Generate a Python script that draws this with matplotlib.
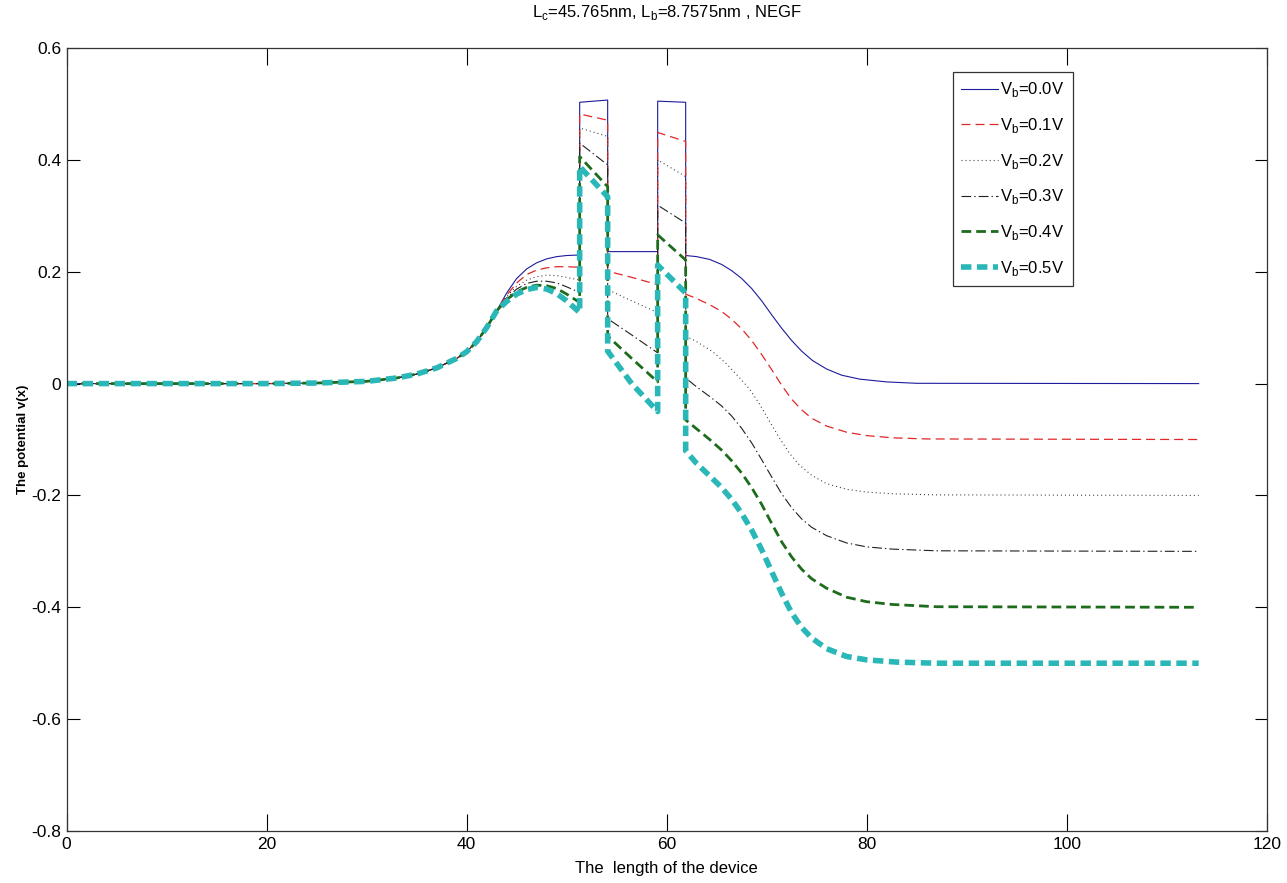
import matplotlib
matplotlib.use("Agg")
import matplotlib.pyplot as plt
from matplotlib.ticker import FormatStrFormatter

plt.rcParams['font.family'] = ['Liberation Sans', 'DejaVu Sans']
plt.rcParams['mathtext.fontset'] = 'custom'
plt.rcParams['mathtext.rm'] = 'Liberation Sans'
plt.rcParams['axes.unicode_minus'] = False
plt.rcParams['lines.scale_dashes'] = False

# common rising part of every curve (x < 43)
x_rise = [0, 10, 20, 25, 30, 33, 35, 37, 39, 40, 41, 42, 43]
y_rise = [0, 0, 0, 0.001, 0.004, 0.01, 0.017, 0.028, 0.045, 0.057, 0.075, 0.1, 0.13]

# Vb = 0.0 V
x_00 = [44, 45, 46, 47, 48, 49, 50, 51.3, 51.3, 54.1, 54.1, 59.1, 59.1, 61.9, 61.9,
        63, 64.3, 65.5, 66.5, 67.5, 68.5, 69.5, 70.5, 71.5, 72.5, 73.5, 74.6, 76, 77.5, 79.3, 82, 85, 113.2]
y_00 = [0.162, 0.188, 0.205, 0.216, 0.223, 0.227, 0.229, 0.23, 0.503, 0.507, 0.236, 0.236, 0.505, 0.503, 0.229,
        0.227, 0.222, 0.213, 0.202, 0.188, 0.17, 0.148, 0.123, 0.099, 0.077, 0.058, 0.041, 0.026, 0.015, 0.008, 0.003, 0.0005, 0]

# Vb = 0.1 V
x_01 = [44, 45, 46, 47, 48, 49, 50, 51.3, 51.3, 54.1, 54.1, 56.5, 59.1, 59.1, 61.9, 61.9,
        63, 64.3, 65.5, 66.5, 67.5, 68.5, 69.5, 70.5, 71.5, 72.5, 73.5, 74.5, 76, 78, 80, 82.6, 86, 113.2]
y_01 = [0.158, 0.18, 0.195, 0.203, 0.207, 0.209, 0.209, 0.208, 0.482, 0.471, 0.201, 0.19, 0.177, 0.449, 0.433, 0.16,
        0.152, 0.141, 0.129, 0.115, 0.098, 0.077, 0.052, 0.025, -0.003, -0.028, -0.047, -0.062, -0.076, -0.087, -0.093, -0.097, -0.099, -0.1]

# Vb = 0.2 V
x_02 = [44, 45, 46, 47, 48, 49, 50, 51.3, 51.3, 54.1, 54.1, 56.5, 59.1, 59.1, 61.9, 61.9,
        63, 64.6, 66, 67.2, 68.3, 69.3, 70.3, 71.3, 72.3, 73.3, 74.5, 76, 78, 80, 82.6, 87, 113.2]
y_02 = [0.156, 0.174, 0.185, 0.191, 0.194, 0.193, 0.19, 0.185, 0.457, 0.442, 0.168, 0.148, 0.127, 0.4, 0.37, 0.085,
        0.075, 0.057, 0.035, 0.012, -0.01, -0.037, -0.068, -0.098, -0.125, -0.146, -0.164, -0.179, -0.189, -0.194, -0.197, -0.199, -0.2]

# Vb = 0.3 V
x_03 = [44, 45, 46, 47, 48, 49, 50, 51.3, 51.3, 54.1, 54.1, 56.5, 59.1, 59.1, 61.9, 61.9,
        63, 64.3, 65.5, 66.5, 67.5, 68.5, 69.5, 70.5, 71.5, 72.5, 73.5, 74.5, 76, 78, 80, 82.6, 87, 113.2]
y_03 = [0.153, 0.169, 0.179, 0.183, 0.183, 0.18, 0.173, 0.163, 0.43, 0.391, 0.116, 0.087, 0.055, 0.319, 0.287, 0.01,
        -0.006, -0.023, -0.04, -0.058, -0.08, -0.106, -0.136, -0.167, -0.197, -0.222, -0.242, -0.257, -0.272, -0.285, -0.292, -0.296, -0.299, -0.3]

# Vb = 0.4 V
x_04 = [44, 45, 46, 47, 48, 49, 50, 51.3, 51.3, 54.1, 54.1, 56.5, 59.1, 59.1, 61.9, 61.9,
        63, 64.3, 65.5, 66.5, 67.5, 68.5, 69.5, 70.5, 71.5, 72.5, 73.5, 74.5, 76, 78, 80, 82.6, 87, 113.2]
y_04 = [0.15, 0.164, 0.172, 0.176, 0.175, 0.17, 0.16, 0.145, 0.406, 0.352, 0.085, 0.045, 0.003, 0.266, 0.221, -0.065,
        -0.081, -0.1, -0.119, -0.138, -0.16, -0.186, -0.216, -0.25, -0.283, -0.31, -0.332, -0.349, -0.366, -0.382, -0.39, -0.395, -0.399, -0.4]

# Vb = 0.5 V
x_05 = [44, 45, 46, 47, 48, 49, 50, 51.3, 51.3, 54.1, 54.1, 56.5, 59.1, 59.1, 61.9, 61.9,
        63, 64.3, 65.5, 66.5, 67.5, 68.5, 69.5, 70.5, 71.5, 72.5, 73.5, 74.5, 76, 78, 80, 83, 87, 113.2]
y_05 = [0.147, 0.16, 0.168, 0.172, 0.169, 0.161, 0.148, 0.127, 0.388, 0.334, 0.058, 0.0, -0.05, 0.212, 0.162, -0.12,
        -0.143, -0.165, -0.186, -0.207, -0.232, -0.262, -0.297, -0.336, -0.375, -0.41, -0.436, -0.455, -0.474, -0.488, -0.494, -0.498, -0.5, -0.5]

labels = [r'V$_\mathregular{b}$=0.0V', r'V$_\mathregular{b}$=0.1V', r'V$_\mathregular{b}$=0.2V',
          r'V$_\mathregular{b}$=0.3V', r'V$_\mathregular{b}$=0.4V', r'V$_\mathregular{b}$=0.5V']

series = [(x_00, y_00), (x_01, y_01), (x_02, y_02), (x_03, y_03), (x_04, y_04), (x_05, y_05)]
styles = [
    dict(color='#1c1c9c', lw=0.8),
    dict(color='#e02828', lw=0.9, dashes=(6.5, 3.6)),
    dict(color='#303030', lw=0.8, dashes=(0.7, 2.2)),
    dict(color='#202020', lw=0.8, dashes=(7, 2.2, 1, 2.2)),
    dict(color='#1d6b1d', lw=2.0, dashes=(7, 3.6)),
    dict(color='#2ab7b7', lw=4.0, dashes=(7.5, 4)),
]

fig = plt.figure(figsize=(12.87, 8.83), dpi=100)
ax = fig.add_axes([0.0518, 0.0589, 0.9324, 0.8867])

for (xs, ys), st, lab in zip(series, styles, labels):
    ax.plot(x_rise + xs, y_rise + ys, label=lab, **st)

ax.set_xlim(0, 120)
ax.set_ylim(-0.8, 0.6)
ax.set_xticks(range(0, 121, 20))
ax.set_yticks([-0.8, -0.6, -0.4, -0.2, 0, 0.2, 0.4, 0.6])
ax.yaxis.set_major_formatter(FormatStrFormatter('%g'))
ax.tick_params(direction='in', top=True, right=True, labelsize=12.5, width=0.8, pad=4)
ax.tick_params(axis='x', length=12)
ax.tick_params(axis='y', length=9)
for s in ax.spines.values():
    s.set_linewidth(0.9)
    s.set_color('#333333')

ax.set_title(r'L$_\mathregular{c}$=45.765nm, L$_\mathregular{b}$=8.7575nm , NEGF', fontsize=12, pad=22)
ax.set_xlabel('The  length of the device', fontsize=12, labelpad=7)
ax.set_ylabel('The potential v(x)', fontsize=9.5, fontweight='bold')
ax.yaxis.set_label_coords(-0.031, 0.5)

leg = ax.legend(loc='upper left', bbox_to_anchor=(0.7386, 0.9693), borderaxespad=0,
                fontsize=12, handlelength=2.2, handletextpad=0.15, labelspacing=1.0,
                fancybox=False, framealpha=1, edgecolor='#333333', borderpad=0.5)
leg.get_frame().set_linewidth(0.9)

fig.savefig('out.png', dpi=100)
